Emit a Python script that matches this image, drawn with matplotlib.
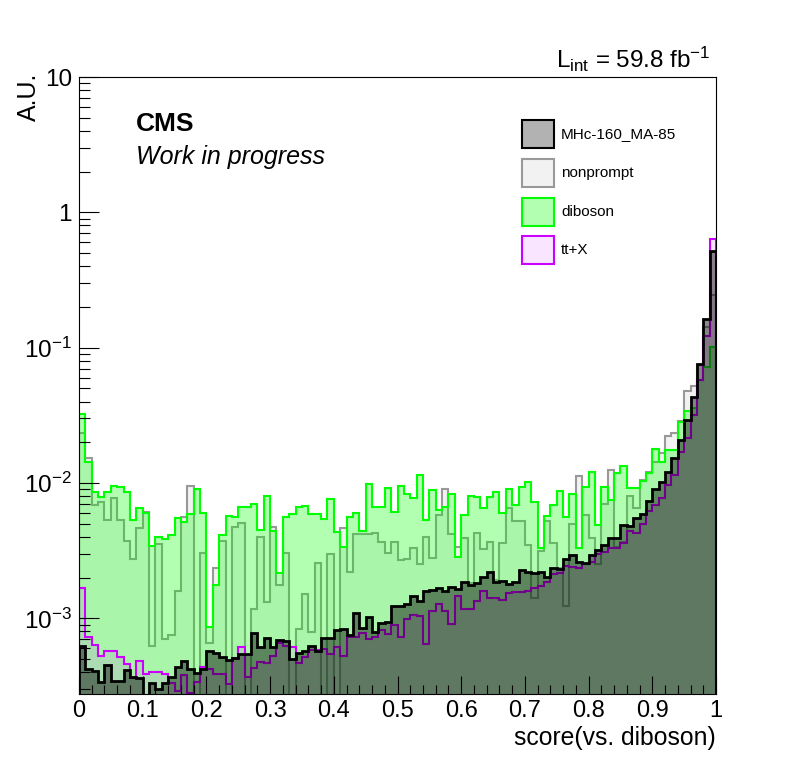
import numpy as np
import matplotlib

matplotlib.use("Agg")
import matplotlib.pyplot as plt
from matplotlib.patches import Rectangle
from matplotlib.ticker import MultipleLocator, LogLocator, NullFormatter

plt.rcParams["font.family"] = ["Liberation Sans", "DejaVu Sans"]
plt.rcParams["mathtext.fontset"] = "custom"
plt.rcParams["mathtext.rm"] = "Liberation Sans"
plt.rcParams["mathtext.it"] = "Liberation Sans:italic"
plt.rcParams["mathtext.bf"] = "Liberation Sans:bold"

# ── Data (100 bins on [0, 1], normalised) ─────────────────────────────
bin_edges = np.linspace(0.0, 1.0, 101)

signal = [
    6.2e-4, 4.2e-4, 4.1e-4, 3.4e-4, 4.5e-4, 3.45e-4, 3.45e-4, 4.15e-4, 3.7e-4, 3.6e-4,
    0.0, 3.35e-4, 3.0e-4, 3.3e-4, 3.7e-4, 4.35e-4, 4.8e-4, 4.2e-4, 3.97e-4, 4.21e-4,
    5.77e-4, 5.58e-4, 5.21e-4, 4.92e-4, 5.13e-4, 5.46e-4, 5.46e-4, 7.76e-4, 6.11e-4, 7.13e-4,
    6.18e-4, 6.92e-4, 6.84e-4, 4.98e-4, 5.52e-4, 5.77e-4, 6.25e-4, 5.77e-4, 7.13e-4, 7.13e-4,
    8.2e-4, 8.39e-4, 7.5e-4, 1.09e-3, 8.45e-4, 1.02e-3, 7.98e-4, 9.29e-4, 9.46e-4, 1.24e-3,
    1.24e-3, 1.28e-3, 1.47e-3, 1.35e-3, 1.60e-3, 1.62e-3, 1.67e-3, 1.60e-3, 1.70e-3, 1.65e-3,
    1.86e-3, 1.75e-3, 1.82e-3, 2.03e-3, 2.20e-3, 1.87e-3, 1.88e-3, 1.79e-3, 1.87e-3, 2.28e-3,
    2.21e-3, 2.15e-3, 2.21e-3, 2.03e-3, 2.37e-3, 2.32e-3, 2.74e-3, 2.94e-3, 2.60e-3, 2.55e-3,
    2.94e-3, 3.21e-3, 3.48e-3, 3.91e-3, 3.91e-3, 4.90e-3, 4.82e-3, 5.56e-3, 5.88e-3, 7.41e-3,
    8.99e-3, 1.02e-2, 1.21e-2, 1.52e-2, 2.08e-2, 2.92e-2, 4.35e-2, 7.6e-2, 0.163, 0.519,
]

nonprompt = [
    0.0233, 0.0152, 0.00689, 0.00729, 0.00533, 0.0078, 0.00533, 0.00375, 0.00273, 0.00463,
    0.00615, 0.000625, 0.00355, 0.000708, 0.000753, 0.00159, 0.00565, 0.00951, 0.0, 0.00303,
    0.000661, 0.00234, 0.00375, 0.0, 0.00476, 0.00505, 0.0, 0.00117, 0.00402, 0.00133,
    0.00476, 0.00177, 0.00303, 0.0, 0.000835, 0.00151, 0.000798, 0.00258, 0.0, 0.00297,
    0.0, 0.00469, 0.00221, 0.00421, 0.00421, 0.00421, 0.0043, 0.00369, 0.00306, 0.00369,
    0.0027, 0.00274, 0.00333, 0.00251, 0.00402, 0.00281, 0.00581, 0.00905, 0.00421, 0.00335,
    0.00395, 0.00182, 0.0043, 0.00326, 0.00369, 0.00192, 0.00363, 0.0065, 0.00527, 0.00527,
    0.00348, 0.00141, 0.00317, 0.00527, 0.00359, 0.00237, 0.00124, 0.00499, 0.0112, 0.00581,
    0.00392, 0.00251, 0.00697, 0.0124, 0.00339, 0.00369, 0.00802, 0.0065, 0.0105, 0.0121,
    0.0144, 0.0166, 0.0223, 0.0236, 0.0289, 0.048, 0.0525, 0.0745, 0.143, 0.245,
]

diboson = [
    0.0324, 0.0144, 0.00865, 0.00794, 0.00865, 0.00951, 0.00931, 0.00865, 0.00533, 0.00658,
    0.00597, 0.00344, 0.00397, 0.00388, 0.00416, 0.00548, 0.00515, 0.00594, 0.00899, 0.00604,
    0.000869, 0.00177, 0.00413, 0.00571, 0.00558, 0.0067, 0.0067, 0.007, 0.0045, 0.00807,
    0.00445, 0.00218, 0.00565, 0.00591, 0.00662, 0.00678, 0.00591, 0.00591, 0.00543, 0.00762,
    0.00432, 0.00339, 0.00558, 0.00597, 0.00445, 0.00984, 0.0067, 0.0067, 0.00925, 0.00615,
    0.00951, 0.0083, 0.0078, 0.0115, 0.00533, 0.00889, 0.00633, 0.0067, 0.0083, 0.00286,
    0.00581, 0.00802, 0.00794, 0.00658, 0.00785, 0.00865, 0.00597, 0.0091, 0.00689, 0.00931,
    0.0102, 0.00729, 0.00333, 0.00571, 0.00689, 0.00879, 0.00565, 0.0083, 0.00333, 0.00941,
    0.0121, 0.0049, 0.00941, 0.0075, 0.0119, 0.0134, 0.00915, 0.00915, 0.0104, 0.0119,
    0.0178, 0.0142, 0.0174, 0.0174, 0.028, 0.0343, 0.036, 0.058, 0.072, 0.101,
]

ttx = [
    1.67e-3, 7.33e-4, 6.4e-4, 5.3e-4, 5.7e-4, 5.7e-4, 5.2e-4, 4.6e-4, 3.6e-4, 4.8e-4,
    3.9e-4, 4.0e-4, 4.0e-4, 3.9e-4, 3.3e-4, 2.9e-4, 3.8e-4, 2.8e-4, 3.4e-4, 4.4e-4,
    4.2e-4, 3.88e-4, 3.88e-4, 3.27e-4, 5.07e-4, 6.18e-4, 3.71e-4, 4.28e-4, 4.79e-4, 4.66e-4,
    5.27e-4, 6.54e-4, 6.25e-4, 6.18e-4, 4.66e-4, 5.21e-4, 5.83e-4, 5.83e-4, 5.9e-4, 5.42e-4,
    6.18e-4, 5.30e-4, 7.33e-4, 7.33e-4, 7.85e-4, 7.0e-4, 7.33e-4, 8.2e-4, 7.67e-4, 8.93e-4,
    7.33e-4, 9.84e-4, 1.06e-3, 1.04e-3, 6.47e-4, 1.14e-3, 1.28e-3, 1.14e-3, 9.1e-4, 1.47e-3,
    1.17e-3, 1.18e-3, 1.35e-3, 1.59e-3, 1.42e-3, 1.42e-3, 1.37e-3, 1.55e-3, 1.56e-3, 1.57e-3,
    1.60e-3, 1.67e-3, 1.73e-3, 1.87e-3, 2.13e-3, 2.15e-3, 2.45e-3, 2.41e-3, 2.37e-3, 2.51e-3,
    2.63e-3, 2.97e-3, 3.11e-3, 3.30e-3, 3.30e-3, 3.63e-3, 4.43e-3, 4.3e-3, 4.96e-3, 6.25e-3,
    6.89e-3, 7.71e-3, 9.68e-3, 1.15e-2, 1.7e-2, 2.15e-2, 3.19e-2, 5.78e-2, 0.121, 0.637,
]

legend_labels = ["MHc-160_MA-85", "nonprompt", "diboson", "tt+X"]
xtick_vals = [0.0, 0.1, 0.2, 0.3, 0.4, 0.5, 0.6, 0.7, 0.8, 0.9, 1.0]
xtick_labels = ["0", "0.1", "0.2", "0.3", "0.4", "0.5", "0.6", "0.7", "0.8", "0.9", "1"]
ytick_vals = [1e-3, 1e-2, 1e-1, 1.0, 10.0]
ytick_labels = [r"$10^{-3}$", r"$10^{-2}$", r"$10^{-1}$", "1", "10"]

# ── Style ─────────────────────────────────────────────────────────────
W, H = 796, 772
FLOOR = 1e-6

NP_FILL, NP_LINE = (0.5, 0.5, 0.5, 0.10), "#999999"
DB_FILL, DB_LINE = (0.0, 1.0, 0.0, 0.30), "#00ff00"
TT_FILL, TT_LINE = (0.8, 0.0, 1.0, 0.10), "#cc00ff"
SG_FILL, SG_LINE = (0.0, 0.0, 0.0, 0.45), "black"


def fx(x):
    return x / W


def fy(y):
    return 1.0 - y / H


fig = plt.figure(figsize=(W / 100, H / 100), dpi=100)
ax = fig.add_axes([fx(79), fy(694), fx(716) - fx(79), fy(77) - fy(694)])
ax.set_yscale("log")


def draw_hist(vals, face, edge, lw):
    v = np.clip(np.asarray(vals, dtype=float), FLOOR, None)
    ax.stairs(v, bin_edges, baseline=FLOOR, fill=True,
              facecolor=face, edgecolor="none", linewidth=0)
    ax.stairs(v, bin_edges, baseline=FLOOR, fill=False,
              edgecolor=edge, linewidth=lw)


draw_hist(nonprompt, NP_FILL, NP_LINE, 1.5)
draw_hist(diboson, DB_FILL, DB_LINE, 1.5)
draw_hist(ttx, TT_FILL, TT_LINE, 1.5)
draw_hist(signal, SG_FILL, SG_LINE, 2.0)

ax.set_xlim(0.0, 1.0)
ax.set_ylim(2.76e-4, 10.0)

ax.set_xticks(xtick_vals, labels=xtick_labels)
ax.xaxis.set_minor_locator(MultipleLocator(0.02))
ax.set_yticks(ytick_vals, labels=ytick_labels)
ax.yaxis.set_minor_locator(LogLocator(base=10, subs=np.arange(2, 10), numticks=30))
ax.yaxis.set_minor_formatter(NullFormatter())

ax.tick_params(axis="both", which="both", direction="in",
               top=False, right=False, width=0.8, color="black")
ax.tick_params(axis="x", which="major", length=13, pad=4, labelsize=17)
ax.tick_params(axis="x", which="minor", length=6.5)
ax.tick_params(axis="y", which="major", length=14.5, pad=5, labelsize=17.5)
ax.tick_params(axis="y", which="minor", length=8)
for sp in ax.spines.values():
    sp.set_linewidth(0.8)

# ── Texts ─────────────────────────────────────────────────────────────
fig.text(fx(716), fy(745), "score(vs. diboson)", ha="right", va="baseline", fontsize=17.8)
fig.text(fx(29), fy(73), "A.U.", ha="center", va="top", rotation=90, fontsize=18)
fig.text(fx(710), fy(68), r"L$_{\mathrm{int}}$ = 59.8 fb$^{-1}$",
         ha="right", va="baseline", fontsize=17.5)
fig.text(fx(136), fy(131), "CMS", ha="left", va="baseline",
         fontsize=19, fontweight="bold")
fig.text(fx(136), fy(164), "Work in progress", ha="left", va="baseline",
         fontsize=18, style="italic")

# ── Legend (drawn by hand, ROOT-like) ────────────────────────────────
leg_faces = [(0, 0, 0, 0.3), NP_FILL, DB_FILL, TT_FILL]
leg_edges = [SG_LINE, NP_LINE, DB_LINE, TT_LINE]
leg_centers = [134, 173, 212, 250]
for label, fc, ec, yc in zip(legend_labels, leg_faces, leg_edges, leg_centers):
    fig.add_artist(Rectangle((fx(522), fy(yc + 14)), fx(554) - fx(522), fy(yc - 14) - fy(yc + 14),
                             transform=fig.transFigure, facecolor=fc,
                             edgecolor=ec, linewidth=1.5))
    fig.text(fx(561), fy(yc), label, ha="left", va="center", fontsize=11)

fig.savefig("out.png", dpi=100)
